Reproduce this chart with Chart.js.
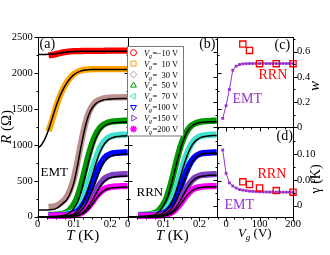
<!DOCTYPE html>
<html>
<head>
<meta charset="utf-8">
<script src="https://cdn.jsdelivr.net/npm/chart.js@4.4.0/dist/chart.umd.min.js"></script>
<style>
  html, body { margin: 0; padding: 0; background: #fff; }
  #fig { position: relative; width: 330px; height: 255px; overflow: hidden; }
  #fig canvas { position: absolute; top: 0; }
</style>
</head>
<body>
<div id="fig">
  <canvas id="pa" width="140" height="255" style="left:0px"></canvas>
  <canvas id="pb" width="110" height="255" style="left:120px"></canvas>
  <canvas id="pc" width="125" height="255" style="left:205px"></canvas>
  <canvas id="pd" width="125" height="255" style="left:205px"></canvas>
</div>
<script>
// ---- data ----
const VG_LEVELS = [-10, 10, 30, 50, 70, 100, 150, 200];

const T_DATA = [0.03, 0.04, 0.05, 0.06, 0.07, 0.08, 0.09, 0.1, 0.11, 0.12, 0.13, 0.14, 0.15, 0.16, 0.17, 0.18, 0.19, 0.2, 0.21, 0.22, 0.23, 0.24, 0.25];
const T_FIT = [0, 0.01, 0.02, 0.03, 0.04, 0.05, 0.06, 0.07, 0.08, 0.09, 0.1, 0.11, 0.12, 0.13, 0.14, 0.15, 0.16, 0.17, 0.18, 0.19, 0.2, 0.21, 0.22, 0.23, 0.24, 0.25];

// measured R (ohm) at T_DATA
const R_M10 = [2250, 2255, 2265, 2278, 2290, 2298, 2303, 2306, 2308, 2309, 2310, 2311, 2311, 2312, 2312, 2312, 2313, 2313, 2313, 2313, 2313, 2313, 2313];
const R_10  = [1190, 1350, 1520, 1665, 1780, 1870, 1940, 1990, 2020, 2038, 2048, 2053, 2055, 2056, 2056, 2057, 2057, 2057, 2057, 2057, 2057, 2057, 2057];
const R_30  = [135, 140, 150, 175, 215, 275, 380, 540, 780, 1040, 1270, 1440, 1540, 1600, 1630, 1648, 1656, 1660, 1662, 1663, 1664, 1665, 1665];
const R_50  = [25, 26, 28, 32, 42, 62, 105, 175, 285, 450, 650, 850, 1020, 1145, 1228, 1278, 1305, 1320, 1328, 1332, 1335, 1337, 1338];
const R_70  = [22, 23, 24, 26, 30, 38, 52, 78, 125, 205, 325, 480, 650, 810, 940, 1030, 1085, 1115, 1130, 1138, 1142, 1144, 1145];
const R_100 = [18, 18, 19, 20, 22, 26, 34, 48, 75, 125, 205, 315, 450, 585, 705, 790, 845, 872, 885, 890, 893, 895, 896];
const R_150 = [15, 15, 15, 16, 17, 18, 22, 30, 45, 72, 118, 185, 270, 360, 445, 510, 550, 572, 582, 587, 590, 592, 593];
const R_200 = [12, 12, 12, 13, 14, 15, 16, 22, 32, 52, 85, 135, 200, 270, 330, 375, 400, 413, 420, 423, 425, 426, 427];

// EMT fits at T_FIT (panel a)
const EMT_M10 = [2262, 2262, 2262, 2263, 2266, 2272, 2280, 2288, 2295, 2299, 2302, 2303, 2304, 2304, 2304, 2305, 2305, 2305, 2305, 2305, 2305, 2305, 2305, 2305, 2305, 2305];
const EMT_10  = [955, 1000, 1085, 1210, 1370, 1530, 1665, 1775, 1862, 1930, 1980, 2012, 2032, 2043, 2049, 2051, 2052, 2052, 2052, 2052, 2052, 2052, 2052, 2052, 2052, 2052];
const EMT_30  = [92, 92, 93, 95, 100, 112, 145, 190, 235, 330, 480, 720, 990, 1230, 1410, 1515, 1575, 1608, 1625, 1635, 1640, 1643, 1645, 1646, 1647, 1648];
const EMT_50  = [0, 0, 0, 1, 2, 4, 8, 16, 30, 62, 118, 205, 355, 555, 760, 940, 1090, 1190, 1250, 1283, 1299, 1307, 1312, 1315, 1317, 1318];
const EMT_70  = [0, 0, 0, 0, 1, 2, 4, 7, 12, 22, 40, 78, 145, 255, 400, 560, 735, 880, 985, 1050, 1088, 1108, 1118, 1123, 1126, 1127];
const EMT_100 = [0, 0, 0, 0, 0, 1, 2, 3, 5, 12, 22, 45, 85, 150, 250, 370, 500, 630, 735, 800, 838, 857, 866, 870, 872, 873];
const EMT_150 = [0, 0, 0, 0, 0, 0, 1, 2, 3, 6, 10, 22, 45, 85, 145, 225, 315, 405, 475, 518, 542, 554, 560, 563, 565, 566];
const EMT_200 = [0, 0, 0, 0, 0, 0, 0, 1, 2, 3, 6, 14, 32, 62, 108, 172, 243, 308, 354, 382, 396, 403, 407, 409, 410, 411];

// RRN fits at T_FIT (panel b)
const RRN_50  = [0, 0, 0, 2, 4, 6, 10, 20, 40, 85, 155, 260, 420, 615, 815, 990, 1125, 1215, 1268, 1296, 1310, 1317, 1321, 1323, 1324, 1325];
const RRN_70  = [0, 0, 0, 1, 2, 3, 5, 9, 16, 30, 55, 100, 175, 290, 440, 610, 770, 905, 1000, 1060, 1095, 1113, 1122, 1127, 1130, 1131];
const RRN_100 = [0, 0, 0, 0, 1, 2, 3, 4, 8, 15, 28, 55, 100, 175, 280, 410, 545, 670, 765, 825, 857, 873, 880, 884, 886, 887];
const RRN_150 = [0, 0, 0, 0, 0, 1, 1, 2, 4, 8, 15, 30, 58, 105, 170, 255, 345, 430, 495, 535, 557, 568, 573, 576, 578, 579];
const RRN_200 = [0, 0, 0, 0, 0, 0, 1, 1, 2, 4, 9, 20, 40, 75, 125, 190, 260, 322, 365, 390, 403, 410, 413, 415, 416, 417];

// fitted parameters vs gate voltage (panels c, d)
const VG_EMT = [-10, 0, 10, 20, 30, 40, 50, 60, 70, 80, 90, 100, 110, 120, 130, 140, 150, 160, 170, 180, 190, 200];
const W_EMT = [0.071, 0.171, 0.30, 0.453, 0.485, 0.498, 0.503, 0.505, 0.506, 0.506, 0.506, 0.506, 0.506, 0.506, 0.506, 0.506, 0.506, 0.506, 0.506, 0.506, 0.506, 0.506];
const GAMMA_EMT = [0.108, 0.0625, 0.044, 0.038, 0.034, 0.031, 0.030, 0.0288, 0.028, 0.0275, 0.027, 0.0268, 0.0265, 0.0263, 0.0262, 0.0261, 0.026, 0.026, 0.0259, 0.0259, 0.0258, 0.0258];
const VG_RRN = [50, 70, 100, 150, 200];
const W_RRN = [0.66, 0.61, 0.505, 0.505, 0.505];
const GAMMA_RRN = [0.046, 0.041, 0.034, 0.029, 0.026];

// tick values
const T_TICKS = [0, 0.1, 0.2];
const T_MINOR = [0.025, 0.05, 0.075, 0.125, 0.15, 0.175, 0.225];
const R_TICKS = [0, 500, 1000, 1500, 2000, 2500];
const R_MINOR = [250, 750, 1250, 1750, 2250];
const VG_TICKS = [0, 100, 200];
const VG_MINOR = [-25, 25, 50, 75, 125, 150, 175];
const W_TICKS = [0, 0.2, 0.4, 0.6];
const W_MINOR = [0.1, 0.3, 0.5, 0.7];
const G_TICKS = [0, 0.05, 0.1];
const G_MINOR = [0.025, 0.075, 0.125];

// ---- styling ----
const SERIF = "'Liberation Serif', 'DejaVu Serif', serif";
const COLORS = ['#ff0000', '#ffa500', '#bc8f8f', '#009900', '#40e0d0', '#0000ff', '#7b3fc0', '#ff00ff'];
const MARKERS = [
  { s: 'circle', r: 3, rot: 0 }, { s: 'rect', r: 3.6, rot: 0 }, { s: 'rectRot', r: 3.4, rot: 0 },
  { s: 'triangle', r: 3.4, rot: 0 }, { s: 'triangle', r: 3.4, rot: -90 }, { s: 'triangle', r: 3.4, rot: 180 },
  { s: 'triangle', r: 3.4, rot: 90 }, { s: 'star', r: 3.4, rot: 0 }
];
const VIOLET = '#9932cc';

Chart.defaults.font.family = SERIF;
Chart.defaults.color = '#000';

function pts(xs, ys) { return xs.map((x, i) => ({ x: x, y: ys[i] })); }

function band(ys, idx) {
  return { data: pts(T_DATA, ys), borderColor: COLORS[idx], borderWidth: 6.3, pointRadius: 0,
    cubicInterpolationMode: 'monotone', order: 20 - idx, clip: { left: 0, right: 0, top: 6, bottom: 3 } };
}
function fit(ys) {
  return { data: pts(T_FIT, ys), borderColor: '#000', borderWidth: 1.5, pointRadius: 0,
    cubicInterpolationMode: 'monotone', order: 0, clip: { left: 0, right: 0, top: 2, bottom: 1 } };
}

function axis(o) {
  return {
    type: 'linear', min: o.min, max: o.max, position: o.position,
    afterBuildTicks: s => { s.ticks = (o.ticks || []).map(v => ({ value: v })); },
    afterFit: s => { if (o.w != null) s.width = o.w; if (o.h != null) s.height = o.h; },
    grid: { display: false, drawTicks: false },
    border: { display: false },
    ticks: { display: !!o.fmt, padding: o.pad || 0, font: { size: 10.5 }, color: '#000',
      maxRotation: 0, autoSkip: false, callback: o.fmt || (() => '') }
  };
}

function txt(ctx, s, x, y, font, color, align) {
  ctx.font = font; ctx.fillStyle = color || '#000';
  ctx.textAlign = align || 'left'; ctx.textBaseline = 'alphabetic';
  ctx.fillText(s, x, y);
}
function rich(ctx, parts, x, y, rot) {
  ctx.save();
  ctx.translate(x, y);
  if (rot) ctx.rotate(rot);
  let w = 0;
  parts.forEach(p => { ctx.font = p.f; w += ctx.measureText(p.t).width; });
  let cx = -w / 2;
  ctx.textAlign = 'left'; ctx.textBaseline = 'alphabetic'; ctx.fillStyle = '#000';
  parts.forEach(p => { ctx.font = p.f; ctx.fillText(p.t, cx, p.dy || 0); cx += ctx.measureText(p.t).width; });
  ctx.restore();
}
const IT15 = 'italic 15px ' + SERIF, RM15 = '15px ' + SERIF;

function deco(spec) {
  return {
    id: 'deco',
    afterDraw(chart) {
      const ctx = chart.ctx, a = chart.chartArea;
      const snap = v => Math.round(v) + 0.5;
      ctx.save();
      ctx.strokeStyle = '#000'; ctx.lineWidth = 1;
      ctx.strokeRect(snap(a.left), snap(a.top), Math.round(a.right) - Math.round(a.left), Math.round(a.bottom) - Math.round(a.top));
      ctx.beginPath();
      spec.ticks.forEach(t => {
        const sc = chart.scales[t.axis];
        [[t.major, 4], [t.minor, 2]].forEach(([vals, len]) => {
          vals.forEach(v => {
            const p = snap(sc.getPixelForValue(v));
            t.sides.forEach(side => {
              if (side === 'bottom') { ctx.moveTo(p, snap(a.bottom)); ctx.lineTo(p, snap(a.bottom) + len); }
              if (side === 'left') { ctx.moveTo(snap(a.left), p); ctx.lineTo(snap(a.left) - len, p); }
              if (side === 'right') { ctx.moveTo(snap(a.right), p); ctx.lineTo(snap(a.right) + len, p); }
            });
          });
        });
      });
      ctx.stroke();
      ctx.translate(-spec.ox, 0);
      spec.draw(ctx, chart);
      ctx.restore();
    }
  };
}

const BASE = {
  responsive: false, animation: false, events: [],
  plugins: { legend: { display: false }, tooltip: { enabled: false } }
};
const fmtDec = d => v => (v === 0 ? '0' : v.toFixed(d));

// ---- panel (a): EMT ----
const rSeries = [R_M10, R_10, R_30, R_50, R_70, R_100, R_150, R_200];
const emtFits = [EMT_M10, EMT_10, EMT_30, EMT_50, EMT_70, EMT_100, EMT_150, EMT_200];

new Chart(document.getElementById('pa'), {
  type: 'line',
  data: { datasets: emtFits.map(fit).concat(rSeries.map(band)) },
  options: Object.assign({}, BASE, {
    layout: { padding: { top: 37.3, right: 12.3, left: 0, bottom: 0 } },
    scales: {
      x: axis({ min: 0, max: 0.248, ticks: T_TICKS, fmt: fmtDec(1), h: 38.3, pad: 1 }),
      y: axis({ min: 0, max: 2500, ticks: R_TICKS, fmt: v => String(v), w: 37.7, pad: 5 })
    }
  }),
  plugins: [deco({
    ox: 0,
    ticks: [
      { axis: 'x', major: T_TICKS, minor: T_MINOR, sides: ['bottom'] },
      { axis: 'y', major: R_TICKS, minor: R_MINOR, sides: ['left', 'right'] }
    ],
    draw(ctx) {
      txt(ctx, '(a)', 39.5, 48, '14px ' + SERIF);
      txt(ctx, 'EMT', 40.5, 175.5, '13px ' + SERIF);
      rich(ctx, [{ t: 'T', f: IT15 }, { t: ' (K)', f: RM15 }], 82.7, 240);
      rich(ctx, [{ t: 'R', f: IT15 }, { t: ' (\u03A9)', f: RM15 }], 11, 127, -Math.PI / 2);
    }
  })]
});

// ---- panel (b): RRN ----
const rrnFits = [RRN_50, RRN_70, RRN_100, RRN_150, RRN_200];

new Chart(document.getElementById('pb'), {
  type: 'line',
  data: { datasets: rrnFits.map(fit).concat(rSeries.slice(3).map((ys, i) => band(ys, i + 3))) },
  options: Object.assign({}, BASE, {
    layout: { padding: { top: 37.3, right: 13.3, left: 0, bottom: 0 } },
    scales: {
      x: axis({ min: 0, max: 0.248, ticks: T_TICKS, fmt: fmtDec(1), h: 38.3, pad: 1 }),
      y: axis({ min: 0, max: 2500, ticks: [], w: 7.7 })
    }
  }),
  plugins: [deco({
    ox: 120,
    ticks: [
      { axis: 'x', major: T_TICKS, minor: T_MINOR, sides: ['bottom'] },
      { axis: 'y', major: R_TICKS, minor: R_MINOR, sides: ['left', 'right'] }
    ],
    draw(ctx) {
      txt(ctx, '(b)', 215.5, 48, '14px ' + SERIF, '#000', 'right');
      txt(ctx, 'RRN', 136.5, 195.5, '13px ' + SERIF);
      rich(ctx, [{ t: 'T', f: IT15 }, { t: ' (K)', f: RM15 }], 172.2, 240);
      // legend
      ctx.fillStyle = '#fff';
      ctx.fillRect(128, 47, 55, 89);
      ctx.strokeStyle = '#777'; ctx.lineWidth = 1;
      ctx.strokeRect(127.5, 46.5, 56, 89.5);
      VG_LEVELS.forEach((v, i) => {
        const y = 52.7 + i * 10.9;
        const m = MARKERS[i];
        ctx.strokeStyle = COLORS[i];
        ctx.fillStyle = 'rgba(0,0,0,0)';
        ctx.lineWidth = m.s === 'star' ? 1.6 : 1;
        Chart.helpers.drawPoint(ctx, { pointStyle: m.s, radius: m.r, rotation: m.rot, borderWidth: 1 }, 133.5, y);
        txt(ctx, 'V', 144, y + 3, 'italic 8.5px ' + SERIF);
        txt(ctx, 'g', 149, y + 5, 'italic 6px ' + SERIF);
        txt(ctx, '=', 152.5, y + 3, '8.5px ' + SERIF);
        txt(ctx, (v < 0 ? '\u2212' : '') + Math.abs(v), 170, y + 3, '8.5px ' + SERIF, '#000', 'right');
        txt(ctx, 'V', 172, y + 3, '8.5px ' + SERIF);
      });
    }
  })]
});

// ---- panel (c): w vs Vg ----
function emtLine(ys) {
  return { data: pts(VG_EMT, ys), borderColor: VIOLET, backgroundColor: VIOLET, borderWidth: 1,
    pointStyle: 'rect', pointRadius: 2, pointBorderWidth: 0, order: 1, clip: false };
}
function rrnPts(ys) {
  return { data: pts(VG_RRN, ys), showLine: false, borderColor: '#ff0000', backgroundColor: 'rgba(0,0,0,0)',
    pointStyle: 'rect', pointRadius: 4.4, pointBorderWidth: 1.3, order: 0, clip: false };
}

new Chart(document.getElementById('pc'), {
  type: 'line',
  data: { datasets: [rrnPts(W_RRN), emtLine(W_EMT)] },
  options: Object.assign({}, BASE, {
    layout: { padding: { top: 37.3, right: 0, left: 11.7, bottom: 0 } },
    scales: {
      x: axis({ min: -28, max: 200, ticks: [], h: 127.7 }),
      y: axis({ min: 0, max: 0.714, ticks: W_TICKS, fmt: fmtDec(1), w: 37, pad: 4, position: 'right' })
    }
  }),
  plugins: [deco({
    ox: 205,
    ticks: [
      { axis: 'x', major: VG_TICKS, minor: VG_MINOR, sides: ['bottom'] },
      { axis: 'y', major: W_TICKS, minor: W_MINOR, sides: ['left', 'right'] }
    ],
    draw(ctx) {
      txt(ctx, '(c)', 274.5, 49, '14px ' + SERIF);
      txt(ctx, 'RRN', 258.5, 78.5, '14px ' + SERIF, '#ff0000');
      txt(ctx, 'EMT', 232.5, 102.5, '14px ' + SERIF, VIOLET);
      rich(ctx, [{ t: 'w', f: IT15 }], 318.5, 86, -Math.PI / 2);
    }
  })]
});

// ---- panel (d): gamma vs Vg ----
new Chart(document.getElementById('pd'), {
  type: 'line',
  data: { datasets: [rrnPts(GAMMA_RRN), emtLine(GAMMA_EMT)] },
  options: Object.assign({}, BASE, {
    layout: { padding: { top: 127.3, right: 0, left: 11.7, bottom: 0 } },
    scales: {
      x: axis({ min: -28, max: 200, ticks: VG_TICKS, fmt: v => String(v), h: 38.3, pad: 1 }),
      y: axis({ min: -0.0217, max: 0.152, ticks: G_TICKS, fmt: fmtDec(2), w: 37, pad: 4, position: 'right' })
    }
  }),
  plugins: [deco({
    ox: 205,
    ticks: [
      { axis: 'x', major: VG_TICKS, minor: VG_MINOR, sides: ['bottom'] },
      { axis: 'y', major: G_TICKS, minor: G_MINOR, sides: ['left', 'right'] }
    ],
    draw(ctx) {
      txt(ctx, '(d)', 276.5, 139.5, '14px ' + SERIF);
      txt(ctx, 'RRN', 257.5, 177.5, '14px ' + SERIF, '#ff0000');
      txt(ctx, 'EMT', 224.5, 208.5, '14px ' + SERIF, VIOLET);
      rich(ctx, [{ t: 'V', f: 'italic 13px ' + SERIF }, { t: 'g', f: 'italic 9px ' + SERIF, dy: 3 }, { t: ' (V)', f: '13px ' + SERIF }], 254.8, 237);
      rich(ctx, [{ t: '\u03B3', f: '14px ' + SERIF }, { t: ' (K)', f: '14px ' + SERIF }], 320, 179, -Math.PI / 2);
    }
  })]
});
</script>
</body>
</html>
